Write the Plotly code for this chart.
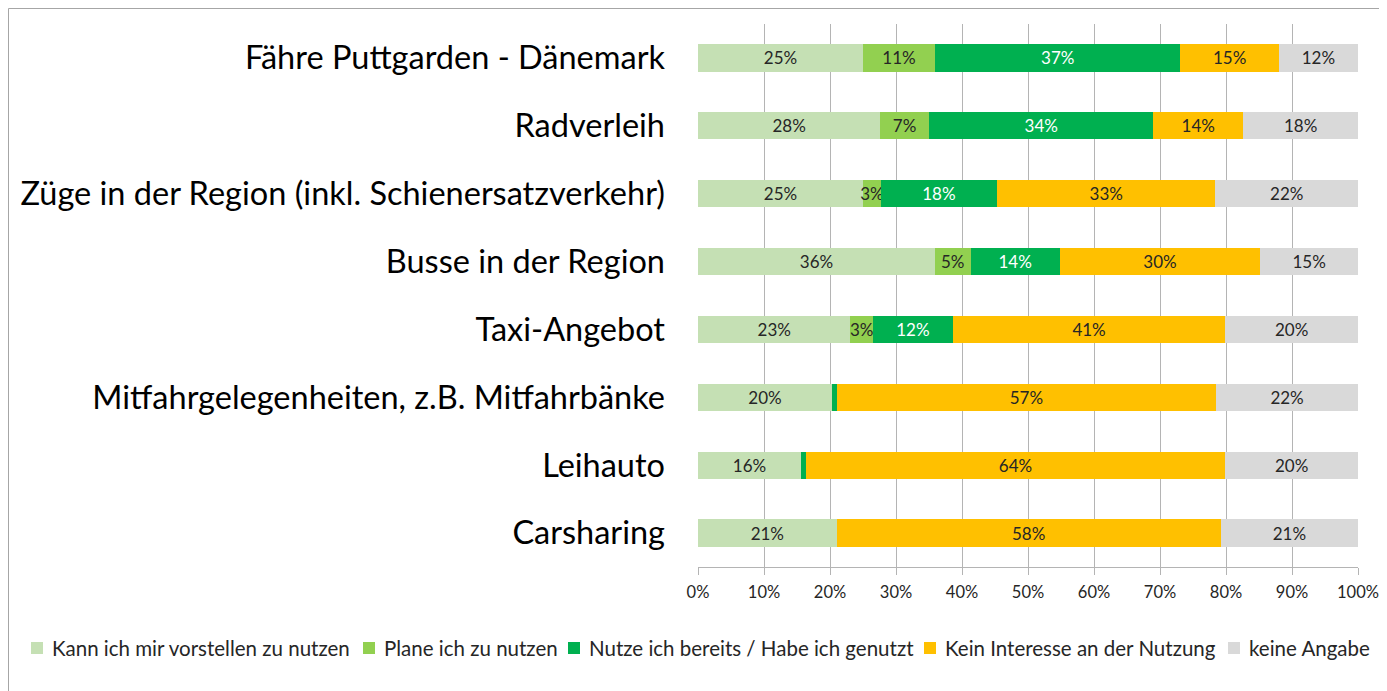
import plotly.graph_objects as go

categories = [
    "Fähre Puttgarden - Dänemark",
    "Radverleih",
    "Züge in der Region (inkl. Schienersatzverkehr)",
    "Busse in der Region",
    "Taxi-Angebot",
    "Mitfahrgelegenheiten, z.B. Mitfahrbänke",
    "Leihauto",
    "Carsharing",
]

series_names = [
    "Kann ich mir vorstellen zu nutzen",
    "Plane ich zu nutzen",
    "Nutze ich bereits / Habe ich genutzt",
    "Kein Interesse an der Nutzung",
    "keine Angabe",
]

kann = [25.0, 27.6, 25.0, 35.9, 23.1, 20.3, 15.6, 21.0]
plane = [10.9, 7.4, 2.7, 5.4, 3.4, 0.0, 0.0, 0.0]
nutze = [37.2, 34.0, 17.6, 13.5, 12.1, 0.7, 0.7, 0.0]
kein = [14.9, 13.6, 33.1, 30.4, 41.3, 57.5, 63.6, 58.2]
keine = [12.0, 17.4, 21.6, 14.8, 20.1, 21.5, 20.1, 20.8]

kann_lbl = ["25%", "28%", "25%", "36%", "23%", "20%", "16%", "21%"]
plane_lbl = ["11%", "7%", "3%", "5%", "3%", "", "", ""]
nutze_lbl = ["37%", "34%", "18%", "14%", "12%", "", "", ""]
kein_lbl = ["15%", "14%", "33%", "30%", "41%", "57%", "64%", "58%"]
keine_lbl = ["12%", "18%", "22%", "15%", "20%", "22%", "20%", "21%"]

x_ticks = [0, 10, 20, 30, 40, 50, 60, 70, 80, 90, 100]
x_tick_labels = ["0%", "10%", "20%", "30%", "40%", "50%", "60%", "70%", "80%", "90%", "100%"]

colors = ["#C5E0B4", "#92D050", "#00B050", "#FFC000", "#D9D9D9"]
text_colors = ["#262626", "#262626", "#FFFFFF", "#262626", "#262626"]

FONT = "Lato"
OFF = 8  # page body margin offset
W, H = 1387 - OFF, 691 - OFF
L, R, T, B = 698 - OFF, 29, 24 - OFF, 124
PW = W - L - R
PH = H - T - B

fig = go.Figure()
all_vals = [kann, plane, nutze, kein, keine]
all_lbls = [kann_lbl, plane_lbl, nutze_lbl, kein_lbl, keine_lbl]
for name, vals, lbls, col, tcol in zip(series_names, all_vals, all_lbls, colors, text_colors):
    fig.add_trace(go.Bar(
        y=categories, x=vals, name=name, orientation="h",
        marker=dict(color=col, line=dict(width=0)),
        text=lbls, textposition="inside", insidetextanchor="middle",
        textangle=0, textfont=dict(family=FONT, size=17, color=tcol),
        showlegend=False,
    ))

grid_col = "#B4B4B4"
fig.update_layout(
    barmode="stack",
    bargap=0.6,
    width=W, height=H,
    margin=dict(l=L, r=R, t=T, b=B, autoexpand=False),
    paper_bgcolor="white", plot_bgcolor="white",
    font=dict(family=FONT, color="#262626"),
    uniformtext=dict(minsize=17, mode="show"),
    xaxis=dict(
        range=[0, 100], tickmode="array", tickvals=x_ticks, ticktext=x_tick_labels,
        showgrid=True, gridcolor=grid_col, gridwidth=1,
        showline=True, linecolor=grid_col, linewidth=1,
        ticks="outside", ticklen=7, tickcolor=grid_col, ticklabelstandoff=3,
        tickfont=dict(family=FONT, size=16.5, color="#262626"),
        zeroline=False, fixedrange=True,
    ),
    yaxis=dict(
        autorange="reversed", showgrid=False, showline=False,
        ticks="", ticklabelstandoff=32,
        tickfont=dict(family=FONT, size=32.5, color="#000000"),
        zeroline=False, fixedrange=True,
    ),
)


def px_x(p):
    """screen pixel x -> paper coordinate"""
    return (p - OFF - L) / PW


def px_y(p):
    """screen pixel y -> paper coordinate"""
    return (H - B - (p - OFF)) / PH


# outer chart border (left and top edges)
fig.add_shape(type="line", xref="paper", yref="paper",
              x0=px_x(OFF + 0.5), x1=px_x(OFF + 0.5), y0=px_y(OFF + 0.5), y1=px_y(H + OFF + 5),
              line=dict(color="#A6A6A6", width=1))
fig.add_shape(type="line", xref="paper", yref="paper",
              x0=px_x(OFF + 0.5), x1=px_x(W + OFF + 5), y0=px_y(OFF + 0.5), y1=px_y(OFF + 0.5),
              line=dict(color="#A6A6A6", width=1))

# legend (manual, matching Excel layout)
legend_text_x = [50, 382, 587, 943, 1247]
legend_y = 648
for name, col, tx in zip(series_names, colors, legend_text_x):
    fig.add_shape(type="rect", xref="paper", yref="paper",
                  x0=px_x(tx - 19), x1=px_x(tx - 7),
                  y0=px_y(legend_y + 6), y1=px_y(legend_y - 6),
                  fillcolor=col, line=dict(width=0))
    fig.add_annotation(x=px_x(tx), y=px_y(legend_y), xref="paper", yref="paper",
                       text=name, showarrow=False, xanchor="left", yanchor="middle",
                       font=dict(family=FONT, size=20.5, color="#262626"))

fig.write_html("out.html")
